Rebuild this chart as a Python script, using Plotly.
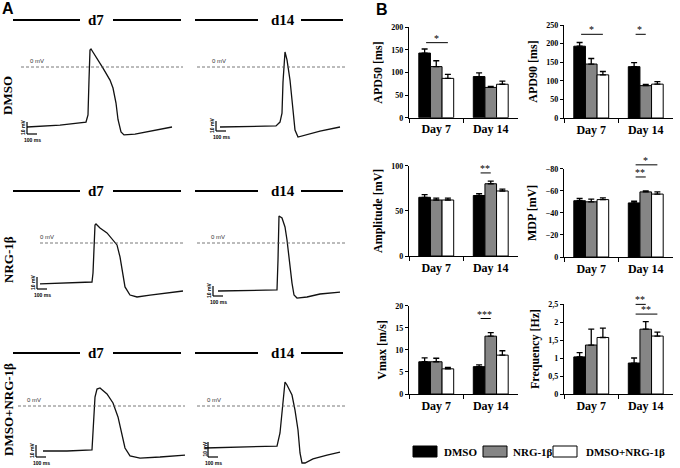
import plotly.graph_objects as go

W, H = 680, 468
def X(px): return px / W
def Y(py): return 1 - py / H

# ---------------- data: bar charts (panel B) ----------------
groups = ["Day 7", "Day 14"]
series = ["DMSO", "NRG-1β", "DMSO+NRG-1β"]

apd50_mean = [[143, 91], [113, 67], [87, 74]]
apd50_sem = [[9, 8], [13, 2], [9, 7]]
apd90_mean = [[193, 138], [145, 87], [116, 91]]
apd90_sem = [[10, 11], [15, 3], [9, 7]]
amp_mean = [[65, 67], [62, 80], [62, 72]]
amp_sem = [[3, 2], [2, 3], [2, 2]]
mdp_mean = [[-51, -49], [-50, -59], [-52, -57]]
mdp_sem = [[2, 1.5], [2.5, 1], [1.5, 2]]
vmax_mean = [[7.3, 6.2], [7.3, 13.1], [5.7, 8.8]]
vmax_sem = [[0.9, 0.4], [0.8, 0.8], [0.3, 1.0]]
freq_mean = [[1.03, 0.86], [1.36, 1.80], [1.57, 1.61]]
freq_sem = [[0.12, 0.14], [0.44, 0.21], [0.26, 0.11]]

freq_ticks = [0, 0.5, 1, 1.5, 2, 2.5]
freq_ticktext = ["0", "0,5", "1", "1,5", "2", "2,5"]

# ---------------- data: action potential traces (panel A), ms / mV ----------------
dmso_d7_t = [170, 500, 760, 780, 790, 800, 810, 870, 930, 1000, 1030, 1060, 1080, 1110, 1140, 1250, 1400, 1620]
dmso_d7_v = [-40, -38.7, -36.7, -32, -8.7, 11.3, 12, 6, -0.7, -8.7, -14, -24, -35, -43.3, -45.3, -44.7, -42.7, -40]
dmso_d14_t = [300, 600, 860, 900, 920, 930, 940, 950, 970, 1000, 1030, 1050, 1080, 1150, 1300, 1500]
dmso_d14_v = [-40, -39.7, -39.3, -36.7, -30.7, -10, 4.7, 10, 4.7, -8.7, -28.7, -42, -46.7, -45.3, -42.7, -40]
nrg_d7_t = [300, 570, 820, 830, 840, 850, 860, 900, 970, 1030, 1070, 1100, 1130, 1150, 1200, 1270, 1400, 1730]
nrg_d7_v = [-27.3, -26.7, -26, -20, 0, 12, 12.7, 10, 6.7, 2, -1.3, -9.3, -20, -29.3, -34.7, -36, -34.7, -32]
nrg_d14_t = [280, 870, 880, 890, 920, 950, 970, 990, 1020, 1040, 1070, 1170, 1300, 1500]
nrg_d14_v = [-32, -31.3, -11.3, 18, 16.7, 10.7, 2, -11.3, -26.7, -34.7, -36.7, -36, -34, -32.7]
combo_d7_t = [330, 570, 820, 830, 850, 870, 900, 970, 1030, 1080, 1120, 1150, 1200, 1300, 1500, 1750]
combo_d7_v = [-30, -30, -29.3, -16, 6, 11.3, 12, 8, 2, -7.3, -18, -28, -33.3, -34.7, -34, -32.7]
combo_d14_t = [150, 600, 870, 900, 930, 950, 970, 1020, 1050, 1080, 1100, 1120, 1150, 1230, 1370, 1500]
combo_d14_v = [-28, -27.3, -26.7, -18, 2, 16, 14, 7.3, -2.7, -16, -31.3, -38, -38, -35.3, -32.7, -30.7]

row_labels = ["DMSO", "NRG-1β", "DMSO+NRG-1β"]
day_labels = ["d7", "d14"]

# ---------------- styles / layout config ----------------
SERIF = "Liberation Serif"
SANS = "Liberation Sans"
bar_colors = ["#000000", "#858585", "#ffffff"]
BARGAP = 0.36
bw = (1 - BARGAP) / 3

fig = go.Figure()
layout = dict(width=W, height=H, margin=dict(l=0, r=0, t=0, b=0),
              paper_bgcolor="white", plot_bgcolor="white", showlegend=False,
              barmode="group", bargap=BARGAP, bargroupgap=0)
shapes, annots = [], []

def ann(x, y, text, size, family=SERIF, bold=True, xanchor="center", yanchor="middle", angle=0, color="black"):
    annots.append(dict(x=X(x), y=Y(y), xref="paper", yref="paper", text=text, showarrow=False,
                       xanchor=xanchor, yanchor=yanchor, textangle=angle,
                       font=dict(family=family, size=size, color=color, weight="bold" if bold else "normal")))

def pline(x0, y0, x1, y1, width=1.2, color="black"):
    shapes.append(dict(type="line", xref="paper", yref="paper", x0=X(x0), x1=X(x1), y0=Y(y0), y1=Y(y1),
                       line=dict(color=color, width=width)))

def axid(letter, n):
    return letter if n == 1 else f"{letter}{n}"

bar_panels = [
    dict(title="APD50 [ms]", mean=apd50_mean, sem=apd50_sem, xd=(409, 518), yd=(27.3, 117.7),
         rng=[0, 200], dtick=50, sig=[(0, 0, 2, 166, "*")]),
    dict(title="APD90 [ms]", mean=apd90_mean, sem=apd90_sem, xd=(564, 673), yd=(25, 118),
         rng=[0, 250], dtick=50, sig=[(0, 0, 2, 225, "*"), (1, 0, 1, 225, "*")]),
    dict(title="Amplitude [mV]", mean=amp_mean, sem=amp_sem, xd=(409, 518), yd=(165.7, 256),
         rng=[0, 100], dtick=50, sig=[(1, 0, 1, 92, "**")]),
    dict(title="MDP [mV]", mean=mdp_mean, sem=mdp_sem, xd=(564, 673), yd=(168.7, 257),
         rng=[0, -80], dtick=20, sig=[(1, 0, 1, -72.5, "**"), (1, 0, 2, -83.5, "*")]),
    dict(title="Vmax [m/s]", mean=vmax_mean, sem=vmax_sem, xd=(409, 518), yd=(305.7, 394),
         rng=[0, 20], dtick=5, sig=[(1, 0, 1, 17.1, "***")]),
    dict(title="Frequency [Hz]", mean=freq_mean, sem=freq_sem, xd=(564, 673), yd=(304, 394),
         rng=[0, 2.5], dtick=0.5, sig=[(1, 0, 1, 2.49, "**"), (1, 0, 2, 2.22, "**")],
         tickvals=freq_ticks, ticktext=freq_ticktext),
]

for k, p in enumerate(bar_panels):
    n = k + 1
    xa, ya = axid("x", n), axid("y", n)
    neg = p["rng"][1] < 0
    for i, s in enumerate(series):
        err = p["sem"][i]
        fig.add_trace(go.Bar(
            x=groups, y=p["mean"][i], name=s, xaxis=xa, yaxis=ya,
            marker=dict(color=bar_colors[i], line=dict(color="black", width=1)),
            error_y=dict(type="data", symmetric=False,
                         array=[0] * len(err) if neg else err,
                         arrayminus=err if neg else [0] * len(err),
                         color="black", thickness=1.3, width=3),
        ))
    xkw = dict(domain=[X(p["xd"][0]), X(p["xd"][1])], anchor=ya, type="category",
               range=[-0.5, 1.5], showline=True, linecolor="black", linewidth=1.3,
               ticks="outside", tickson="boundaries", ticklen=4, tickcolor="black",
               tickfont=dict(family=SERIF, size=12, color="black", weight="bold"),
               showgrid=False, zeroline=False, automargin=False, fixedrange=True)
    ykw = dict(domain=[Y(p["yd"][1]), Y(p["yd"][0])], anchor=xa, range=p["rng"],
               showline=True, linecolor="black", linewidth=1.3, ticks="outside", ticklen=3,
               tickcolor="black", dtick=p["dtick"], showgrid=False, zeroline=False,
               tickfont=dict(family=SERIF, size=8, color="black", weight="bold"),
               title=dict(text=p["title"], standoff=6,
                          font=dict(family=SERIF, size=12, color="black", weight="bold")),
               automargin=False, fixedrange=True)
    if "tickvals" in p:
        ykw.update(tickmode="array", tickvals=p["tickvals"], ticktext=p["ticktext"])
    layout["xaxis" if n == 1 else f"xaxis{n}"] = xkw
    layout["yaxis" if n == 1 else f"yaxis{n}"] = ykw
    r0, r1 = p["rng"]
    for (g, a, b, val, txt) in p["sig"]:
        xa0 = g + (a - 1) * bw
        xa1 = g + (b - 1) * bw
        frac = (val - r0) / (r1 - r0)   # position of the bracket within the y-axis domain
        annots.append(dict(x=xa1, y=frac, xref=xa, yref=f"{ya} domain",
                           ax=xa0, ay=frac, axref=xa, ayref=f"{ya} domain",
                           text="", showarrow=True, arrowhead=0, arrowwidth=1, arrowcolor="black",
                           standoff=0, startstandoff=0))
        annots.append(dict(x=(xa0 + xa1) / 2, y=frac, xref=xa, yref=f"{ya} domain", text=txt,
                           showarrow=False, xanchor="center", yanchor="bottom", yshift=-3,
                           font=dict(family=SERIF, size=10, color="black")))

# ---------------- AP trace panels ----------------
PX_PER_MV = 1.5
MS_PER_PX = 10
trace_panels = [
    dict(t=dmso_d7_t, v=dmso_d7_v, xd=(10, 190), yd=(30, 150), y0=67, dash=(21, 183), zl=(37, 61),
         sb=dict(x=27, y1=122, y2=134, x2=37)),
    dict(t=dmso_d14_t, v=dmso_d14_v, xd=(190, 345), yd=(30, 150), y0=67, dash=(197, 345), zl=(219, 61),
         sb=dict(x=216, y1=121, y2=131, x2=226)),
    dict(t=nrg_d7_t, v=nrg_d7_v, xd=(10, 190), yd=(198, 312), y0=243, dash=(40, 183), zl=(47, 237),
         sb=dict(x=37, y1=277, y2=289, x2=47)),
    dict(t=nrg_d14_t, v=nrg_d14_v, xd=(190, 345), yd=(198, 312), y0=243, dash=(197, 345), zl=(218, 237),
         sb=dict(x=213, y1=286, y2=296, x2=223)),
    dict(t=combo_d7_t, v=combo_d7_v, xd=(10, 190), yd=(362, 468), y0=406, dash=(18, 185), zl=(34, 400),
         sb=dict(x=36, y1=445, y2=457, x2=46)),
    dict(t=combo_d14_t, v=combo_d14_v, xd=(190, 345), yd=(362, 468), y0=406, dash=(197, 345), zl=(214, 400),
         sb=dict(x=208, y1=442, y2=457, x2=218)),
]

for k, p in enumerate(trace_panels):
    n = 7 + k
    xa, ya = axid("x", n), axid("y", n)
    x0px, x1px = p["xd"]
    ytop, ybot = p["yd"]
    fig.add_trace(go.Scatter(x=p["t"], y=p["v"], mode="lines", xaxis=xa, yaxis=ya,
                             line=dict(color="#111111", width=1.3), hoverinfo="skip"))
    layout[f"xaxis{n}"] = dict(domain=[X(x0px), X(x1px)], anchor=ya,
                               range=[0, (x1px - x0px) * MS_PER_PX], visible=False, fixedrange=True)
    layout[f"yaxis{n}"] = dict(domain=[Y(ybot), Y(ytop)], anchor=xa,
                               range=[(p["y0"] - ybot) / PX_PER_MV, (p["y0"] - ytop) / PX_PER_MV],
                               visible=False, fixedrange=True)
    # 0 mV reference line
    shapes.append(dict(type="line", xref=xa, yref=ya,
                       x0=(p["dash"][0] - x0px) * MS_PER_PX, x1=(p["dash"][1] - x0px) * MS_PER_PX,
                       y0=0, y1=0, line=dict(color="#555555", width=0.8, dash="3px,2px")))
    ann(p["zl"][0], p["zl"][1], "0 mV", 6, family=SANS, bold=False, color="#333333")
    # scale bar
    sb = p["sb"]
    pline(sb["x"], sb["y1"], sb["x"], sb["y2"])
    pline(sb["x"], sb["y2"], sb["x2"], sb["y2"])
    ann(sb["x"] - 4, (sb["y1"] + sb["y2"]) / 2, "10 mV", 5, family=SANS, angle=-90)
    ann(sb["x"] + 5, sb["y2"] + 6, "100 ms", 5, family=SANS)

# headers d7 / d14 with lines
header_rows = [20, 191, 353]
header_cols = [dict(l=(13, 80), r=(113, 181), tx=96), dict(l=(195, 258), r=(301, 343), tx=283)]
for hy in header_rows:
    for c, hc in enumerate(header_cols):
        for seg in (hc["l"], hc["r"]):
            pline(seg[0], hy, seg[1], hy, width=2)
        ann(hc["tx"], hy, day_labels[c], 15)

# row labels
for lbl, ry in zip(row_labels, [96, 260, 410]):
    ann(8, ry, lbl, 13, angle=-90)

# panel letters
ann(8, 8, "A", 16, family=SANS)
ann(382, 9, "B", 16, family=SANS)

# legend
legend_items = [(413, 442), (483, 511), (553, 584)]
for i, (bx, tx) in enumerate(legend_items):
    shapes.append(dict(type="rect", xref="paper", yref="paper", x0=X(bx), x1=X(bx + 24),
                       y0=Y(457), y1=Y(446), fillcolor=bar_colors[i], line=dict(color="black", width=1)))
    ann(tx, 452, series[i], 11, xanchor="left")

layout["shapes"] = shapes
layout["annotations"] = annots
fig.update_layout(**layout)
# remove the browser's default 8px body margin so the figure sits at the page origin
fig.write_html("out.html", config={"displayModeBar": False},
               post_script="document.body.style.margin='0px';")
